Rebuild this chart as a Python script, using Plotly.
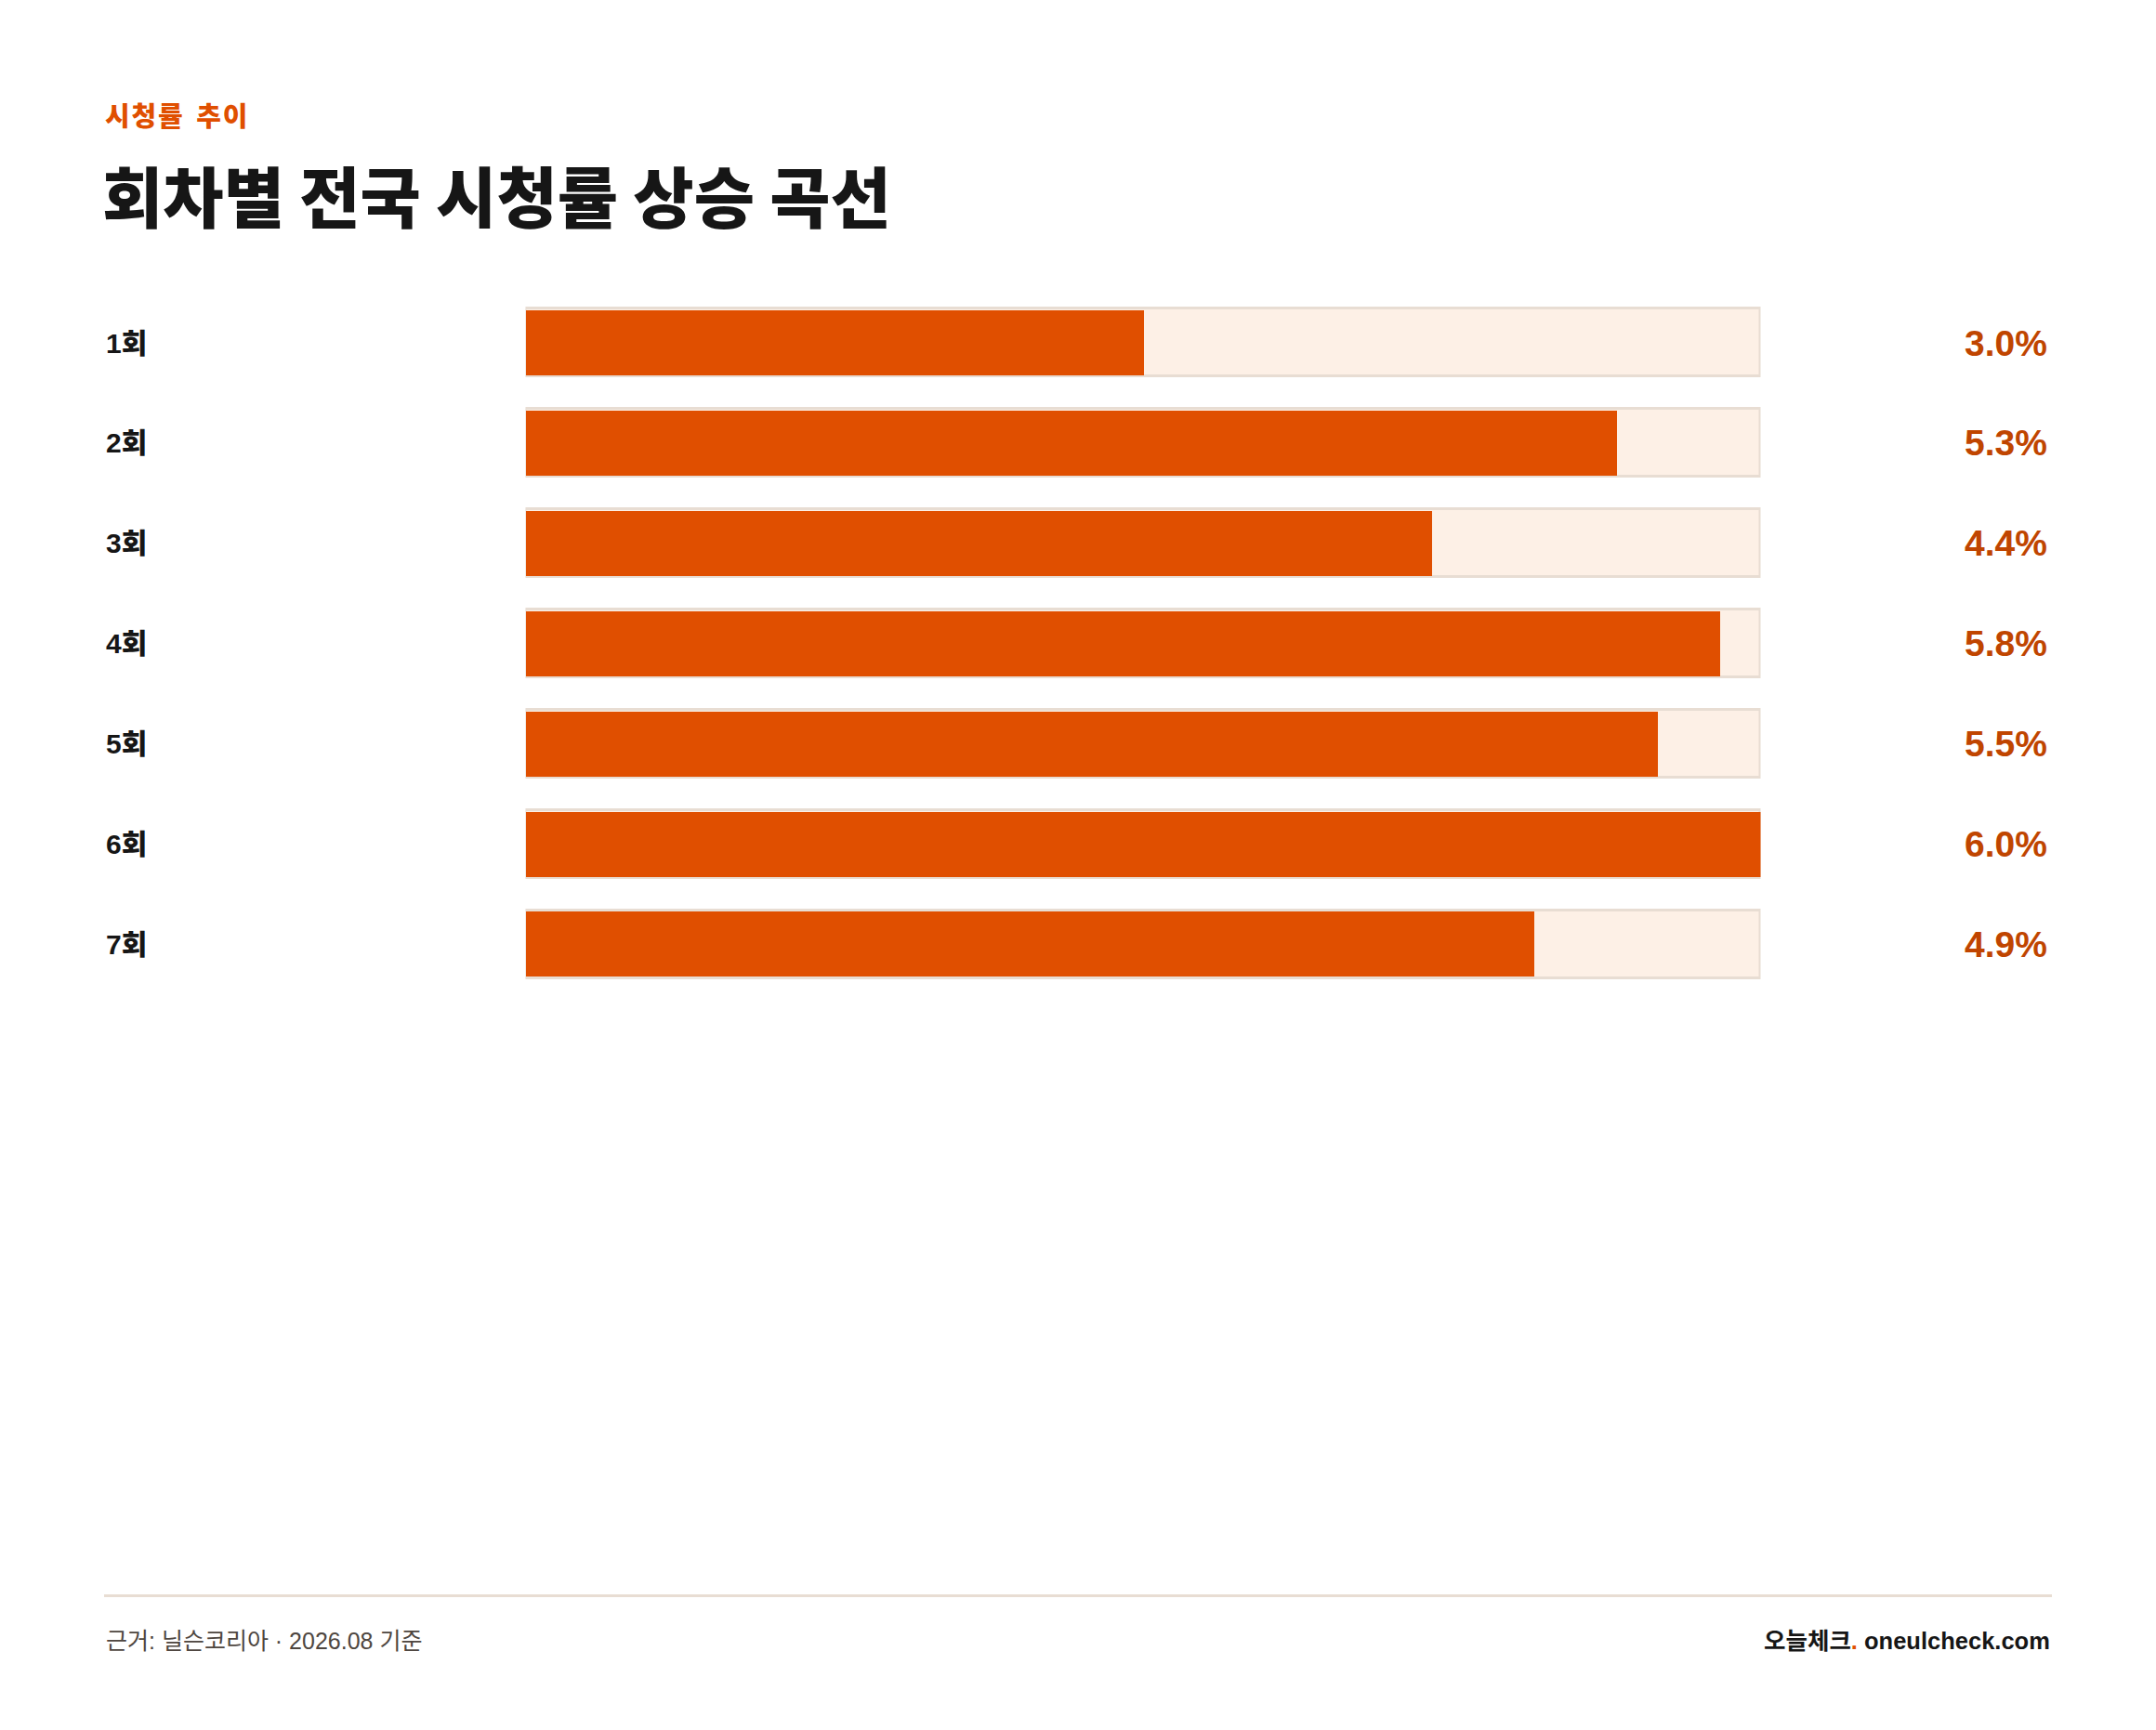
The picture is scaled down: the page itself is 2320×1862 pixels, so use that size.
import plotly.graph_objects as go

# 회차별 전국 시청률 (%)
episodes = ["1회", "2회", "3회", "4회", "5회", "6회", "7회"]
ratings = [3.0, 5.3, 4.4, 5.8, 5.5, 6.0, 4.9]
scale_max = 6.0

W, H = 2320, 1862
KR = "Noto Sans CJK KR"
LAT = "Liberation Sans, Noto Sans CJK KR"

ORANGE = "#e04f00"
DARK_ORANGE = "#c04500"
TRACK = "#fdf0e6"
TRACK_LINE = "#e8ddd3"


def px(x):
    return x / W


def py(y):
    return 1 - y / H


fig = go.Figure()

# background track (full scale)
fig.add_trace(go.Bar(
    y=episodes, x=[scale_max] * len(episodes), orientation="h",
    width=0.677,
    marker=dict(color=TRACK, line=dict(color=TRACK_LINE, width=3)),
    hoverinfo="skip",
))

# rating fill
fig.add_trace(go.Bar(
    y=episodes, x=ratings, orientation="h",
    width=0.649,
    marker=dict(color=ORANGE, line=dict(width=0)),
    hovertemplate="%{y}: %{x:.1f}%<extra></extra>",
))

annotations = []
for ep, r in zip(episodes, ratings):
    annotations.append(dict(
        x=px(112), xref="paper", y=ep, yref="y",
        xanchor="left", yanchor="middle", showarrow=False,
        text=ep, font=dict(family=LAT, size=30, color="#161616", weight=800),
    ))
    annotations.append(dict(
        x=px(2205), xref="paper", y=ep, yref="y",
        xanchor="right", yanchor="middle", showarrow=False,
        text="%.1f%%" % r, font=dict(family=LAT, size=39, color=DARK_ORANGE, weight=800),
    ))

# header (slightly tracked kicker)
kicker = "\u200a".join("시청률") + "\u2002" + "\u200a".join("추이")
annotations.append(dict(
    x=px(111), xref="paper", y=py(123), yref="paper",
    xanchor="left", yanchor="middle", showarrow=False,
    text=kicker, font=dict(family=KR, size=29, color=ORANGE, weight=800),
))
annotations.append(dict(
    x=px(108), xref="paper", y=py(208), yref="paper",
    xanchor="left", yanchor="middle", showarrow=False,
    text="회차별 전국 시청률 상승 곡선", font=dict(family=KR, size=71, color="#161616", weight=900),
))

# footer
annotations.append(dict(
    x=px(112), xref="paper", y=py(1766), yref="paper",
    xanchor="left", yanchor="middle", showarrow=False,
    text="근거: 닐슨코리아 · 2026.08 기준", font=dict(family=LAT, size=25, color="#4e4640"),
))
annotations.append(dict(
    x=px(2208), xref="paper", y=py(1766), yref="paper",
    xanchor="right", yanchor="middle", showarrow=False,
    text="<b>오늘체크<span style='color:%s'>.</span> oneulcheck.com</b>" % ORANGE,
    font=dict(family=LAT, size=25.5, color="#161616"),
))

fig.update_layout(
    width=W, height=H,
    margin=dict(l=0, r=0, t=0, b=0),
    paper_bgcolor="white", plot_bgcolor="white",
    barmode="overlay", bargap=0,
    showlegend=False,
    xaxis=dict(domain=[px(565.5), px(1894.5)], range=[0, scale_max],
               visible=False, fixedrange=True),
    yaxis=dict(domain=[py(1070.45), py(315.05)], range=[6.5, -0.5],
               visible=False, fixedrange=True,
               categoryorder="array", categoryarray=episodes),
    annotations=annotations,
    shapes=[dict(type="line", xref="paper", yref="paper",
                 x0=px(112), x1=px(2208), y0=py(1717.5), y1=py(1717.5),
                 line=dict(color=TRACK_LINE, width=3))],
)

fig.write_html("out.html", config={"displayModeBar": False},
               post_script="document.body.style.margin='0';")
